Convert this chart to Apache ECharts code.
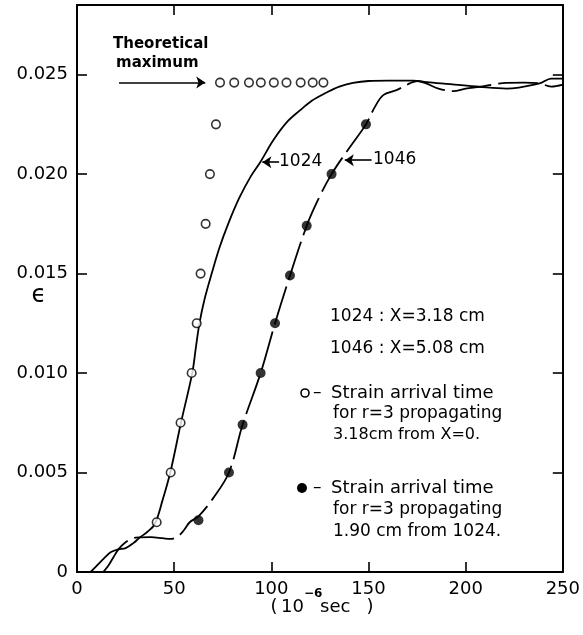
<!DOCTYPE html>
<html>
<head>
<meta charset="utf-8">
<script src="https://cdn.jsdelivr.net/npm/echarts@6/dist/echarts.min.js"></script>
<style>
html,body{margin:0;padding:0;background:#fff;}
#c{width:583px;height:635px;}
</style>
</head>
<body>
<div id="c"></div>
<script>
// ---- data ----
const xTicks = [0, 50, 100, 150, 200, 250];
const yTicks = [0, 0.005, 0.010, 0.015, 0.020, 0.025];

// measured strain, gauge 1024 (solid curve)
const curve1024 = [
  [7,0],[10,0.0003],[14,0.0007],[17.5,0.0010],[21.3,0.00114],[25,0.0012],[29,0.00145],
  [32.4,0.00174],[36,0.0020],[40,0.0024],[44,0.0036],[48,0.005],[53.5,0.0075],[59.3,0.010],
  [61.2,0.0113],[63.0,0.0125],[65.6,0.0137],[69.3,0.0150],[73.3,0.0163],[77.8,0.0175],
  [83.5,0.0188],[89.5,0.0199],[94.3,0.0206],[101,0.0217],[107.9,0.0226],[114.7,0.0232],
  [121,0.0237],[128.4,0.0241],[135,0.0244],[142,0.02458],[150,0.02468],[160,0.0247],
  [173,0.0247],[180,0.02462],[192,0.02452],[207,0.02439],[221,0.0243],[238,0.02456],
  [244,0.0248],[250,0.0248]
];
// measured strain, gauge 1046 (broken curve)
const curve1046 = [
  [13.5,0],[16,0.0003],[18.5,0.0007],[21.3,0.00114],[25,0.0015],[29,0.0017],[32.4,0.00174],
  [38,0.00175],[44,0.0017],[48,0.00166],[52,0.0018],[55,0.0021],[58,0.0025],[62.5,0.0028],
  [70,0.0037],[78.2,0.005],[85.2,0.0074],[94.5,0.010],[101.9,0.0125],[109.6,0.0149],
  [118.2,0.0174],[124,0.0187],[131,0.020],[140,0.0213],[148.7,0.0225],[153.3,0.02338],
  [157.6,0.02397],[164.4,0.02422],[171.3,0.02456],[175,0.02468],[179,0.02459],[186,0.0243],
  [193.6,0.02417],[200,0.0243],[207.3,0.02439],[214,0.0245],[221,0.02459],[230,0.0246],
  [238,0.02456],[244,0.0244],[250,0.0245]
];
// strain arrival time, r=3, 3.18 cm from X=0 (open circles)
const openPts = [
  [41,0.0025],[48.2,0.005],[53.3,0.0075],[59,0.010],[61.6,0.0125],[63.6,0.015],[66.2,0.0175],
  [68.4,0.020],[71.5,0.0225],[73.6,0.0246],[80.9,0.0246],[88.5,0.0246],[94.6,0.0246],
  [101.3,0.0246],[107.8,0.0246],[115.1,0.0246],[121.3,0.0246],[126.8,0.0246]
];
// strain arrival time, r=3, 1.90 cm from 1024 (filled circles)
const filledPts = [
  [62.5,0.0026],[78.2,0.005],[85.2,0.0074],[94.5,0.010],[101.9,0.0125],[109.6,0.0149],
  [118.2,0.0174],[131,0.020],[148.7,0.0225]
];
// annotation arrows (data coordinates)
const theoMaxArrow = [[21.6,0.0246],[66,0.0246]];
const arrow1024 = [[104,0.0206],[95.4,0.0206]];
const arrow1046 = [[151.6,0.0207],[137.8,0.0207]];

const FONT = 'DejaVu Sans';
const chart = echarts.init(document.getElementById('c'), null, {renderer:'canvas'});

const axisLine = {show:true, onZero:false, lineStyle:{color:'#000', width:2}};
const tickStyle = {show:true, inside:true, length:10, lineStyle:{color:'#000', width:1.6}};

function arrowLine(pts){
  return [{coord:pts[0]},{coord:pts[1]}];
}
function txt(x, y, s, size, extra){
  return {type:'text', x:x, y:y, style:Object.assign({text:s, font:size + 'px "DejaVu Sans"',
    fill:'#000', verticalAlign:'middle'}, extra || {})};
}

const option = {
  animation:false,
  backgroundColor:'#fff',
  grid:{left:77, right:20, top:5, bottom:63},
  xAxis:[
    {type:'value', position:'bottom', min:0, max:250, interval:50,
     axisLine:axisLine, axisTick:tickStyle, splitLine:{show:false},
     axisLabel:{color:'#000', fontFamily:FONT, fontSize:18, margin:8,
       customValues:xTicks}},
    {type:'value', position:'top', min:0, max:250, interval:50,
     axisLine:axisLine, axisTick:tickStyle, splitLine:{show:false},
     axisLabel:{show:false}}
  ],
  yAxis:[
    {type:'value', position:'left', min:0, max:0.0285,
     axisLine:axisLine, splitLine:{show:false},
     axisTick:Object.assign({customValues:yTicks}, tickStyle),
     axisLabel:{color:'#000', fontFamily:FONT, fontSize:18, margin:9,
       customValues:yTicks,
       formatter:v => v === 0 ? '0' : v.toFixed(3)}},
    {type:'value', position:'right', min:0, max:0.0285,
     axisLine:axisLine, splitLine:{show:false},
     axisTick:Object.assign({customValues:yTicks}, tickStyle),
     axisLabel:{show:false}}
  ],
  series:[
    {name:'1024', type:'line', data:curve1024, showSymbol:false, smooth:0.35,
     lineStyle:{color:'#000', width:1.8}, z:2},
    {name:'1046', type:'line', data:curve1046, showSymbol:false, smooth:0.35,
     lineStyle:{color:'#000', width:1.8, type:[40,7]}, z:2},
    {name:'open', type:'scatter', data:openPts, symbol:'circle', symbolSize:8.5,
     itemStyle:{color:'#fff', borderColor:'#000', borderWidth:1.6}, z:4,
     markLine:{silent:true, symbol:['none','arrow'], symbolSize:9,
       label:{show:false}, lineStyle:{color:'#000', width:1.6, type:'solid'},
       emphasis:{disabled:true},
       data:[arrowLine(theoMaxArrow), arrowLine(arrow1024), arrowLine(arrow1046)]}},
    {name:'filled', type:'scatter', data:filledPts, symbol:'circle', symbolSize:10,
     itemStyle:{color:'#000'}, z:4}
  ],
  graphic:[
    {type:'text', left:113, top:37, style:{text:'Theoretical', font:'bold 15px "DejaVu Sans"', fill:'#000'}},
    {type:'text', left:116, top:56, style:{text:'maximum', font:'bold 15px "DejaVu Sans"', fill:'#000'}},
    txt(279, 162, '1024', 17),
    txt(373, 160, '1046', 17),
    txt(330, 317, '1024 : X=3.18 cm', 17),
    txt(330, 349, '1046 : X=5.08 cm', 17),
    {type:'circle', shape:{cx:305, cy:393, r:4}, style:{fill:'#fff', stroke:'#000', lineWidth:1.6}},
    txt(313, 393, '–', 17),
    txt(331, 393, 'Strain arrival time', 18),
    txt(333, 414, 'for r=3 propagating', 17),
    txt(333, 435, '3.18cm from X=0.', 16),
    {type:'circle', shape:{cx:302, cy:488, r:5}, style:{fill:'#000'}},
    txt(313, 488, '–', 17),
    txt(331, 488, 'Strain arrival time', 18),
    txt(333, 510, 'for r=3 propagating', 17),
    txt(333, 532, '1.90 cm from 1024.', 17),
    txt(39, 296, 'ϵ', 24, {align:'center'}),
    txt(274, 607, '(', 18, {align:'center'}),
    txt(304, 607, '10', 18, {align:'right'}),
    txt(304, 594, '−6', 12, {align:'left', font:'bold 12px "DejaVu Sans"'}),
    txt(320, 607, 'sec', 18, {align:'left'}),
    txt(370, 607, ')', 18, {align:'center'})
  ]
};
chart.setOption(option);
</script>
</body>
</html>
